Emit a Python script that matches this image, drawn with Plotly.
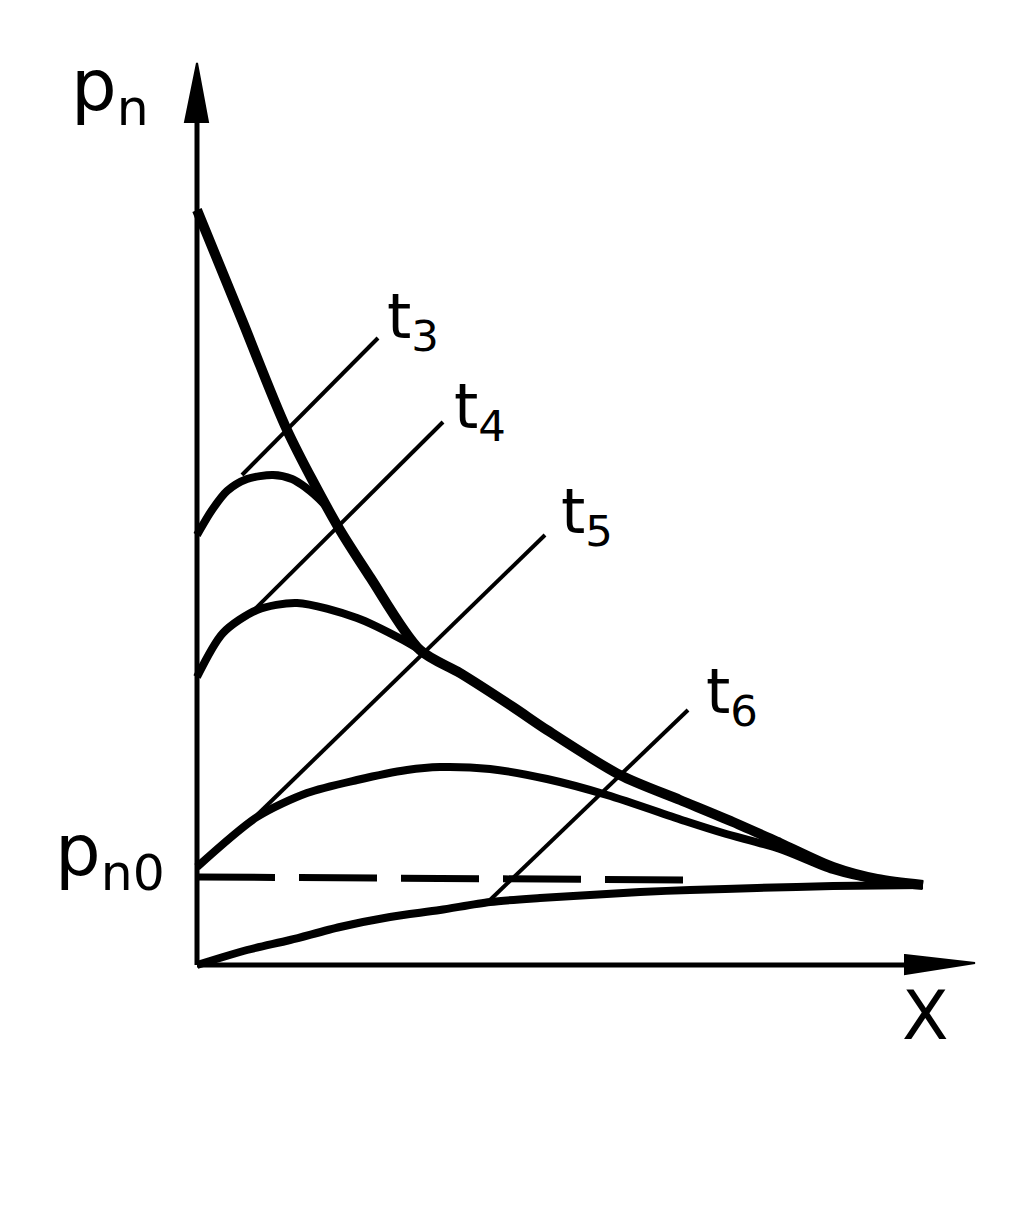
import plotly.graph_objects as go

# Units: x = distance from origin, y = concentration p_n (arbitrary units)
env_x = [0, 0.45, 0.9, 1.4, 1.73, 2.23, 2.63, 3.16, 3.5, 4.23, 4.83, 5.36, 5.83, 6.36, 6.8, 7.26]
env_y = [7.55, 6.45, 5.35, 4.4, 3.88, 3.15, 2.92, 2.58, 2.35, 1.9, 1.65, 1.43, 1.22, 0.98, 0.86, 0.8]

t3_x = [0, 0.15, 0.3, 0.5, 0.76, 0.95, 1.08, 1.2, 1.3]
t3_y = [4.3, 4.55, 4.74, 4.86, 4.9, 4.86, 4.78, 4.68, 4.58]

t4_x = [0, 0.26, 0.6, 1.0, 1.6, 2.06, 2.23]
t4_y = [2.88, 3.32, 3.55, 3.62, 3.47, 3.25, 3.15]

t5_x = [0, 0.6, 1.1, 1.6, 2.1, 2.43, 2.93, 3.5, 4.1, 4.88, 5.26, 5.83, 6.36, 6.8, 7.26]
t5_y = [0.98, 1.48, 1.72, 1.85, 1.95, 1.98, 1.96, 1.86, 1.7, 1.44, 1.32, 1.16, 0.95, 0.85, 0.8]

t6_x = [0, 0.5, 0.93, 1.43, 1.93, 2.43, 2.93, 3.43, 3.93, 4.43, 4.93, 5.6, 6.36, 7.26]
t6_y = [0, 0.15, 0.25, 0.38, 0.48, 0.55, 0.63, 0.67, 0.7, 0.73, 0.75, 0.77, 0.79, 0.8]

pn0_x = [0, 5.0]
pn0_y = [0.88, 0.85]

# label leader lines
leader_labels = ["t<sub>3</sub>", "t<sub>4</sub>", "t<sub>5</sub>", "t<sub>6</sub>"]
leader_x = [[1.81, 0.45], [2.46, 0.55], [3.48, 0.6], [4.91, 2.93]]
leader_y = [[6.27, 4.9], [5.43, 3.53], [4.3, 1.5], [2.55, 0.65]]
label_pos_x = [2.16, 2.83, 3.9, 5.35]
label_pos_y = [6.45, 5.55, 4.5, 2.7]

fig = go.Figure()

# axes
fig.add_trace(go.Scatter(x=[0, 0], y=[0, 8.6], mode="lines",
                         line=dict(color="black", width=5), hoverinfo="skip"))
fig.add_trace(go.Scatter(x=[0, 7.2], y=[0, 0], mode="lines",
                         line=dict(color="black", width=5), hoverinfo="skip"))
fig.add_shape(type="path", path="M -0.12,8.43 L 0.0,9.02 L 0.11,8.43 Z",
              fillcolor="black", line=dict(color="black", width=2))
fig.add_shape(type="path", path="M 7.08,0.1 L 7.78,0.02 L 7.08,-0.09 Z",
              fillcolor="black", line=dict(color="black", width=2))

# dashed p_n0 level
fig.add_trace(go.Scatter(x=pn0_x, y=pn0_y, mode="lines",
                         line=dict(color="black", width=7, dash="78px,24px"),
                         hoverinfo="skip"))

# leader lines
for lx, ly in zip(leader_x, leader_y):
    fig.add_trace(go.Scatter(x=lx, y=ly, mode="lines",
                             line=dict(color="black", width=4), hoverinfo="skip"))

# curves
for cx, cy, w in [(env_x, env_y, 10), (t3_x, t3_y, 8), (t4_x, t4_y, 8),
                  (t5_x, t5_y, 8), (t6_x, t6_y, 8)]:
    fig.add_trace(go.Scatter(x=cx, y=cy, mode="lines",
                             line=dict(color="black", width=w, shape="spline", smoothing=0.8),
                             hoverinfo="skip"))

font = dict(family="DejaVu Sans", color="black", size=62)
for txt, x, y in zip(leader_labels, label_pos_x, label_pos_y):
    fig.add_annotation(x=x, y=y, text=txt, showarrow=False, font=font)

fig.add_annotation(x=-0.87, y=8.75, text="p<sub>n</sub>", showarrow=False,
                   font=dict(family="DejaVu Sans", color="black", size=72))
fig.add_annotation(x=-0.87, y=1.1, text="p<sub>n0</sub>", showarrow=False,
                   font=dict(family="DejaVu Sans", color="black", size=72))
fig.add_annotation(x=7.28, y=-0.5, text="X", showarrow=False,
                   font=dict(family="DejaVu Sans", color="black", size=68))

fig.update_layout(
    width=1010, height=1209,
    margin=dict(l=0, r=0, t=0, b=0),
    paper_bgcolor="white", plot_bgcolor="white",
    showlegend=False,
    xaxis=dict(range=[-1.89, 8.21], visible=False, fixedrange=True),
    yaxis=dict(range=[-2.52, 9.57], visible=False, fixedrange=True),
)

fig.write_html("out.html")
